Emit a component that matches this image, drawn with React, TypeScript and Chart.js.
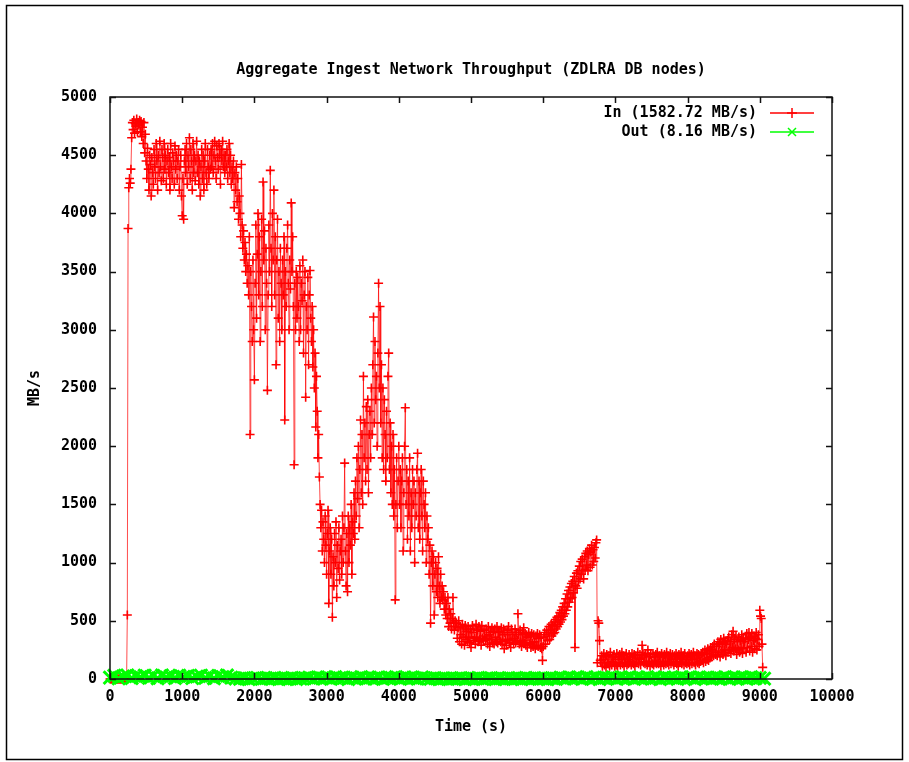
import React, { useEffect, useRef } from 'react';
import { Chart, registerables } from 'chart.js';

Chart.register(...registerables);

const TITLE = 'Aggregate Ingest Network Throughput (ZDLRA DB nodes)';
const X_TITLE = 'Time (s)';
const Y_TITLE = 'MB/s';
const IN_LABEL = 'In (1582.72 MB/s)';
const OUT_LABEL = 'Out (8.16 MB/s)';

const X_TICKS = [0, 1000, 2000, 3000, 4000, 5000, 6000, 7000, 8000, 9000, 10000];
const Y_TICKS = [0, 500, 1000, 1500, 2000, 2500, 3000, 3500, 4000, 4500, 5000];

// "In" samples, one every 10 s starting at t = 0 (20 samples per row = 200 s)
const IN_START = 0;
const IN_STEP = 10;
const IN_VALUES = [
  0, 0, 0, 0, 0, 0, 0, 0, 0, 0, 0, 0, 0, 0, 0, 0, 0, 0, 0, 0,
  0, 0, 0, 0, 550, 3870, 4220, 4300, 4260, 4380, 4650, 4780, 4720, 4800, 4690, 4770, 4750, 4810, 4700, 4780,
  4760, 4800, 4700, 4790, 4660, 4740, 4600, 4780, 4520, 4680, 4450, 4300, 4560, 4380, 4200, 4500, 4420, 4150, 4480, 4350,
  4250, 4550, 4400, 4300, 4600, 4450, 4200, 4500, 4350, 4620, 4400, 4280, 4550, 4480, 4300, 4600, 4380, 4500, 4250, 4450,
  4550, 4350, 4480, 4200, 4600, 4400, 4300, 4520, 4450, 4250, 4580, 4380, 4500, 4300, 4450, 4550, 4200, 4400, 4500, 4150,
  3980, 4300, 3950, 4450, 4550, 4350, 4600, 4250, 4500, 4400, 4650, 4300, 4550, 4450, 4200, 4600, 4350, 4500, 4280, 4450,
  4620, 4350, 4500, 4250, 4450, 4150, 4400, 4550, 4300, 4500, 4200, 4450, 4600, 4350, 4250, 4550, 4400, 4300, 4500, 4380,
  4550, 4400, 4600, 4350, 4500, 4620, 4450, 4300, 4580, 4480, 4380, 4600, 4500, 4250, 4550, 4450, 4620, 4400, 4500, 4350,
  4500, 4400, 4550, 4300, 4450, 4600, 4350, 4500, 4250, 4400, 4300, 4450, 4050, 4350, 4200, 4400, 4100, 4300, 3950, 4150,
  4000, 3800, 4420, 3900, 3700, 3850, 3600, 3750, 3500, 3650, 3400, 3550, 3300, 3800, 2100, 3500, 3200, 2900, 3600, 3000,
  2570, 3400, 3900, 3100, 3650, 4000, 3300, 3800, 2900, 3500, 3950, 3200, 4270, 3600, 3850, 3000, 3700, 3400, 2480, 3300,
  3900, 3500, 4370, 3700, 3200, 4000, 3600, 4200, 3300, 3800, 2700, 3600, 3950, 3100, 3500, 2900, 3700, 3400, 3000, 3600,
  3300, 3800, 2225, 3500, 3200, 3700, 3900, 3400, 3000, 3600, 3350, 4090, 3500, 3800, 3200, 1840, 3400, 3000, 3500, 3100,
  3450, 3200, 2900, 3550, 3000, 3400, 3250, 3600, 2800, 3300, 3500, 2420, 3200, 3000, 3450, 2700, 3300, 3510, 3100, 2900,
  3200, 2680, 3000, 2500, 2800, 2165, 2600, 2300, 1900, 2100, 1735, 1500, 1300, 1450, 1100, 1350, 1200, 1000, 1400, 1150,
  900, 1250, 1450, 650, 1100, 1300, 900, 1200, 530, 1050, 800, 1250, 1000, 1350, 700, 1150, 950, 1300, 850, 1100,
  1200, 900, 1400, 1000, 1300, 1855, 1100, 800, 1250, 750, 1400, 1000, 1300, 1150, 1500, 900, 1350, 1250, 1600, 1200,
  1700, 1400, 1900, 1550, 2000, 1300, 1800, 2225, 1600, 2100, 1500, 2600, 1900, 2200, 1700, 2340, 1800, 2400, 1600, 2100,
  2300, 1900, 2500, 2100, 2700, 3110, 2200, 2900, 2400, 2600, 2000, 2800, 3400, 2500, 3200, 2200, 2700, 1900, 2500, 1800,
  2400, 2100, 1700, 2300, 1900, 2600, 2800, 1800, 2200, 1600, 2000, 1500, 2100, 1400, 1800, 680, 1500, 1900, 1300, 1700,
  2000, 1500, 1800, 1300, 1700, 1900, 1100, 1600, 2000, 2330, 1500, 1800, 1200, 1700, 1400, 1900, 1100, 1600, 1300, 1800,
  1500, 1700, 1000, 1600, 1400, 1800, 1940, 1300, 1700, 1200, 1600, 1800, 1400, 1100, 1700, 1500, 1300, 1600, 1000, 1400,
  1200, 1300, 900, 1150, 480, 1000, 1100, 800, 1050, 550, 900, 1000, 750, 950, 700, 1050, 800, 650, 900, 700,
  800, 680, 750, 600, 700, 550, 650, 520, 700, 450, 600, 480, 560, 430, 520, 700, 480, 420, 500, 450,
  480, 350, 440, 500, 320, 450, 380, 300, 470, 360, 430, 290, 460, 340, 410, 320, 450, 360, 310, 430,
  270, 400, 460, 330, 430, 350, 300, 470, 360, 420, 320, 450, 340, 410, 290, 460, 350, 330, 420, 370,
  330, 430, 350, 300, 450, 380, 280, 400, 340, 440, 310, 410, 300, 430, 360, 320, 450, 310, 400, 340,
  410, 320, 440, 300, 380, 430, 260, 400, 330, 290, 420, 340, 450, 310, 380, 270, 430, 330, 400, 300,
  350, 430, 310, 400, 330, 560, 380, 300, 420, 320, 280, 400, 330, 440, 310, 390, 290, 380, 270, 360,
  400, 300, 370, 270, 390, 310, 280, 380, 320, 260, 370, 290, 390, 280, 350, 380, 270, 360, 260, 160,
  280, 360, 400, 300, 380, 420, 330, 400, 450, 340, 420, 470, 370, 460, 390, 490, 400, 510, 430, 530,
  450, 540, 470, 570, 490, 590, 510, 620, 540, 650, 560, 690, 590, 730, 620, 760, 660, 790, 690, 820,
  700, 840, 740, 880, 270, 800, 910, 780, 930, 840, 970, 860, 1010, 900, 1030, 930, 860, 1050, 940, 1080,
  980, 1100, 930, 1070, 1120, 960, 1090, 1150, 980, 1110, 1010, 1130, 1040, 1170, 1195, 140, 500, 480, 330, 160,
  140, 200, 110, 170, 220, 120, 190, 100, 210, 140, 130, 200, 110, 230, 150, 120, 190, 140, 210, 110,
  170, 120, 220, 110, 190, 140, 210, 120, 170, 230, 130, 200, 110, 180, 140, 220, 120, 170, 130, 210,
  140, 190, 120, 220, 150, 130, 210, 110, 200, 140, 180, 230, 130, 170, 210, 120, 180, 290, 210, 140,
  200, 130, 220, 150, 120, 250, 140, 190, 110, 210, 150, 130, 220, 120, 190, 140, 210, 130, 230, 150,
  130, 200, 150, 110, 220, 140, 190, 120, 210, 150, 130, 230, 140, 200, 120, 180, 220, 130, 170, 210,
  140, 120, 200, 150, 220, 130, 190, 110, 210, 140, 180, 230, 130, 170, 200, 120, 220, 140, 190, 130,
  200, 140, 220, 120, 190, 210, 130, 170, 230, 140, 200, 120, 180, 220, 140, 210, 130, 200, 150, 220,
  160, 230, 140, 210, 250, 150, 220, 170, 260, 160, 240, 180, 270, 190, 250, 280, 200, 300, 230, 210,
  280, 200, 320, 230, 300, 190, 340, 240, 310, 210, 350, 250, 320, 200, 300, 330, 230, 360, 250, 320,
  220, 380, 270, 410, 240, 340, 260, 370, 210, 320, 250, 360, 230, 330, 270, 380, 220, 340, 260, 320,
  350, 230, 390, 270, 340, 400, 240, 360, 280, 390, 230, 330, 370, 260, 350, 400, 250, 340, 380, 280,
  590, 540, 520, 300, 100,
];

// "Out" samples, one every 60 s starting at t = 0
const OUT_START = 0;
const OUT_STEP = 60;
const OUT_VALUES = [
  12, 28, 5, 22, 30, 8, 25, 15, 29, 10,
  27, 6, 30, 14, 24, 9, 28, 18, 26, 7,
  21, 29, 10, 25, 6, 27, 16, 30, 12, 4,
  2, 8, 0, 5, 10, 1, 7, 3, 9, 0,
  6, 2, 9, 0, 4, 8, 12, 3, 14, 6,
  13, 2, 15, 7, 11, 0, 12, 5, 15, 3,
  12, 4, 14, 1, 11, 9, 15, 2, 13, 6,
  11, 3, 14, 5, 2, 7, 0, 6, 1, 4,
  3, 8, 0, 6, 2, 9, 1, 5, 7, 0,
  5, 1, 8, 2, 6, 0, 9, 3, 7, 2,
  4, 0, 8, 2, 12, 3, 14, 6, 13, 1,
  15, 4, 12, 0, 11, 7, 14, 2, 13, 5,
  14, 1, 12, 6, 15, 3, 11, 0, 13, 8,
  10, 2, 15, 5, 13, 0, 14, 7, 12, 3,
  11, 4, 15, 1, 14, 6, 13, 2, 15, 8,
  10, 3,
];

const FONT_FAMILY = "'DejaVu Sans Mono', 'Liberation Mono', monospace";
const FONT = { family: FONT_FAMILY, size: 15, weight: 'bold' as const, lineHeight: 1.2 };

const toPoints = (start: number, step: number, values: number[]) =>
  values.map((v, i) => ({ x: start + i * step, y: v }));

const framePlugin = {
  id: 'gnuFrame',
  beforeDraw(chart: any) {
    const ctx = chart.ctx;
    ctx.save();
    ctx.fillStyle = '#ffffff';
    ctx.fillRect(0, 0, chart.width, chart.height);
    ctx.strokeStyle = '#000';
    ctx.lineWidth = 1.5;
    ctx.strokeRect(6.5, 5.5, chart.width - 13, chart.height - 8);
    ctx.restore();
  },
  afterDatasetsDraw(chart: any) {
    const { ctx, chartArea: a, scales } = chart;
    ctx.save();
    ctx.strokeStyle = '#111';
    ctx.lineWidth = 1.5;
    ctx.strokeRect(a.left, a.top, a.right - a.left, a.bottom - a.top);
    const tl = 6;
    ctx.beginPath();
    X_TICKS.forEach((v) => {
      const px = Math.round(scales.x.getPixelForValue(v)) + 0.5;
      ctx.moveTo(px, a.bottom);
      ctx.lineTo(px, a.bottom - tl);
      ctx.moveTo(px, a.top);
      ctx.lineTo(px, a.top + tl);
    });
    Y_TICKS.forEach((v) => {
      const py = Math.round(scales.y.getPixelForValue(v)) + 0.5;
      ctx.moveTo(a.left, py);
      ctx.lineTo(a.left + tl, py);
      ctx.moveTo(a.right, py);
      ctx.lineTo(a.right - tl, py);
    });
    ctx.stroke();

    // legend (gnuplot style: text right-aligned, sample to the right)
    const entries = [
      { label: IN_LABEL, color: '#ff0000', style: 'cross', y: a.top + 16 },
      { label: OUT_LABEL, color: '#00ff00', style: 'crossRot', y: a.top + 35 },
    ];
    ctx.font = `bold 15px ${FONT_FAMILY}`;
    ctx.textAlign = 'right';
    ctx.textBaseline = 'middle';
    entries.forEach((e) => {
      ctx.fillStyle = '#000';
      ctx.fillText(e.label, a.right - 75, e.y);
      ctx.strokeStyle = e.color;
      ctx.lineWidth = 1.5;
      ctx.beginPath();
      ctx.moveTo(a.right - 62, e.y);
      ctx.lineTo(a.right - 18, e.y);
      ctx.stroke();
      const cx = a.right - 40;
      ctx.beginPath();
      if (e.style === 'cross') {
        ctx.moveTo(cx, e.y - 5);
        ctx.lineTo(cx, e.y + 5);
        ctx.moveTo(cx - 5, e.y);
        ctx.lineTo(cx + 5, e.y);
      } else {
        ctx.moveTo(cx - 4, e.y - 4);
        ctx.lineTo(cx + 4, e.y + 4);
        ctx.moveTo(cx - 4, e.y + 4);
        ctx.lineTo(cx + 4, e.y - 4);
      }
      ctx.stroke();
    });
    ctx.restore();
  },
};

export default function App() {
  const canvasRef = useRef<HTMLCanvasElement | null>(null);

  useEffect(() => {
    document.body.style.margin = '0';
    const canvas = canvasRef.current;
    if (!canvas) return;
    const chart = new Chart(canvas, {
      type: 'line',
      data: {
        datasets: [
          {
            label: OUT_LABEL,
            data: toPoints(OUT_START, OUT_STEP, OUT_VALUES),
            borderColor: '#00ff00',
            borderWidth: 3,
            pointStyle: 'crossRot',
            pointRadius: 9,
            pointBorderColor: '#00ff00',
            pointBorderWidth: 3,
            clip: false,
          },
          {
            label: IN_LABEL,
            data: toPoints(IN_START, IN_STEP, IN_VALUES),
            borderColor: 'rgba(255,0,0,0.7)',
            borderWidth: 1,
            pointStyle: 'cross',
            pointRadius: 4.5,
            pointBorderColor: '#ff0000',
            pointBorderWidth: 1.6,
            clip: false,
          },
        ],
      },
      options: {
        responsive: false,
        animation: false,
        events: [],
        layout: { padding: { left: 0, right: 77, top: 0, bottom: 0 } },
        plugins: {
          legend: { display: false },
          tooltip: { enabled: false },
          title: {
            display: true,
            text: TITLE,
            color: '#000',
            font: FONT,
            fullSize: false,
            padding: { top: 61, bottom: 18 },
          },
        },
        scales: {
          x: {
            type: 'linear',
            min: 0,
            max: 10000,
            afterFit: (s: any) => {
              s.height = 83;
            },
            afterBuildTicks: (s: any) => {
              s.ticks = X_TICKS.map((v) => ({ value: v }));
            },
            grid: { display: false, drawTicks: false },
            border: { display: false },
            ticks: {
              color: '#000',
              font: FONT,
              padding: 9,
              maxRotation: 0,
              autoSkip: false,
              callback: (v: any) => String(v),
            },
            title: {
              display: true,
              text: X_TITLE,
              color: '#000',
              font: FONT,
              padding: { top: 0, bottom: 26 },
            },
          },
          y: {
            type: 'linear',
            min: 0,
            max: 5000,
            afterFit: (s: any) => {
              s.width = 110;
            },
            afterBuildTicks: (s: any) => {
              s.ticks = Y_TICKS.map((v) => ({ value: v }));
            },
            grid: { display: false, drawTicks: false },
            border: { display: false },
            ticks: {
              color: '#000',
              font: FONT,
              padding: 13,
              autoSkip: false,
              callback: (v: any) => String(v),
            },
            title: {
              display: true,
              text: Y_TITLE,
              color: '#000',
              font: FONT,
              padding: { top: 26, bottom: 0 },
            },
          },
        },
      },
      plugins: [framePlugin],
    });
    return () => chart.destroy();
  }, []);

  return (
    <div style={{ width: 909, height: 762 }}>
      <canvas ref={canvasRef} width={909} height={762} style={{ display: 'block' }} />
    </div>
  );
}
